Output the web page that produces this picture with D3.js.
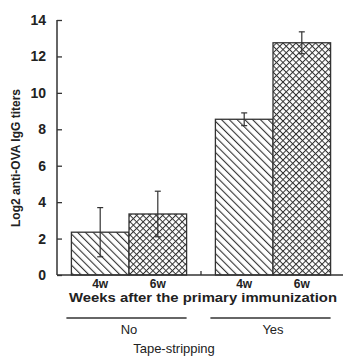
<!DOCTYPE html>
<html>
<head>
<meta charset="utf-8">
<script src="https://cdn.jsdelivr.net/npm/d3@7"></script>
<style>
  body { margin: 0; background: #fff; }
  text { font-family: "Liberation Sans", Arial, sans-serif; fill: #222; }
</style>
</head>
<body>
<div class="chart"></div>
<script>
// chart values
const groups = ["No", "Yes"];
const weeks = ["4w", "6w"];
const means = [[2.35, 3.35], [8.55, 12.75]];
const errs = [[1.35, 1.25], [0.35, 0.6]];
const yTicks = [0, 2, 4, 6, 8, 10, 12, 14];

const WIDTH = 343;
const HEIGHT = 362;

const x0 = d3.scaleBand().domain(groups).range([57, 345]).paddingInner(0.2).paddingOuter(0.1);
const x1 = d3.scaleBand().domain(weeks).range([0, x0.bandwidth()]);
const y = d3.scaleLinear().domain([0, 14]).range([275, 20]);

const svg = d3.select(".chart").append("svg")
    .attr("width", WIDTH)
    .attr("height", HEIGHT);

const defs = svg.append("defs");
// diagonal hatch for 4w
const hatch = defs.append("pattern")
    .attr("id", "hatch")
    .attr("patternUnits", "userSpaceOnUse")
    .attr("width", 5.5).attr("height", 5.5)
    .attr("patternTransform", "rotate(-45)");
hatch.append("rect").attr("width", 5.5).attr("height", 5.5).attr("fill", "#fff");
hatch.append("line").attr("x1", 0).attr("y1", 0).attr("x2", 0).attr("y2", 5.5)
    .attr("stroke", "#333").attr("stroke-width", 2.2);
// cross hatch for 6w
const cross = defs.append("pattern")
    .attr("id", "cross")
    .attr("patternUnits", "userSpaceOnUse")
    .attr("width", 4.6).attr("height", 4.6)
    .attr("patternTransform", "rotate(45)");
cross.append("rect").attr("width", 4.6).attr("height", 4.6).attr("fill", "#fff");
cross.append("line").attr("x1", 0).attr("y1", 0).attr("x2", 0).attr("y2", 4.6)
    .attr("stroke", "#333").attr("stroke-width", 2);
cross.append("line").attr("x1", 0).attr("y1", 0).attr("x2", 4.6).attr("y2", 0)
    .attr("stroke", "#333").attr("stroke-width", 2);

const fills = {"4w": "url(#hatch)", "6w": "url(#cross)"};

// bars
const rows = [];
groups.forEach((g, i) => weeks.forEach((w, j) => rows.push({g, w, v: means[i][j], e: errs[i][j]})));

const bars = svg.append("g");
bars.selectAll("rect")
    .data(rows)
    .join("rect")
    .attr("x", d => x0(d.g) + x1(d.w))
    .attr("y", d => y(d.v))
    .attr("width", x1.bandwidth())
    .attr("height", d => y(0) - y(d.v))
    .attr("fill", d => fills[d.w])
    .attr("stroke", "#333")
    .attr("stroke-width", 1.3);

// error bars
const eb = svg.append("g").attr("stroke", "#333").attr("stroke-width", 1.2);
rows.forEach(d => {
    const cx = x0(d.g) + x1(d.w) + x1.bandwidth() / 2;
    eb.append("line").attr("x1", cx).attr("x2", cx).attr("y1", y(d.v + d.e)).attr("y2", y(d.v - d.e));
    eb.append("line").attr("x1", cx - 3).attr("x2", cx + 3).attr("y1", y(d.v + d.e)).attr("y2", y(d.v + d.e));
    eb.append("line").attr("x1", cx - 3).attr("x2", cx + 3).attr("y1", y(d.v - d.e)).attr("y2", y(d.v - d.e));
});

// y axis
const yAxis = svg.append("g").attr("transform", "translate(57,0)")
    .call(d3.axisRight(y).tickValues(yTicks).tickSize(5).tickFormat(""));
yAxis.select(".domain").attr("stroke", "#333").attr("stroke-width", 1.5).attr("d", `M0,${y(14)}V${y(0)}`);
yAxis.selectAll(".tick line").attr("stroke", "#333").attr("stroke-width", 1.3);
svg.append("g").selectAll("text")
    .data(yTicks)
    .join("text")
    .attr("x", 46)
    .attr("y", d => y(d))
    .attr("dy", "0.36em")
    .attr("text-anchor", "end")
    .style("font-size", "14px")
    .style("font-weight", "bold")
    .text(d => d);

// x axis line
svg.append("line").attr("x1", 57).attr("x2", 343).attr("y1", y(0)).attr("y2", y(0))
    .attr("stroke", "#333").attr("stroke-width", 1.5);
const midX = (x0("No") + x0.bandwidth() + x0("Yes")) / 2;
svg.append("line").attr("x1", midX).attr("x2", midX).attr("y1", y(0)).attr("y2", y(0) - 4)
    .attr("stroke", "#333").attr("stroke-width", 1.3);

// week labels
svg.append("g").selectAll("text")
    .data(rows)
    .join("text")
    .attr("x", d => x0(d.g) + x1(d.w) + x1.bandwidth() / 2)
    .attr("y", 288)
    .attr("text-anchor", "middle")
    .style("font-size", "12px")
    .style("font-weight", "bold")
    .text(d => d.w);

svg.append("text")
    .attr("x", 203).attr("y", 302)
    .attr("text-anchor", "middle")
    .style("font-size", "13px")
    .style("font-weight", "bold")
    .attr("textLength", 268)
    .attr("lengthAdjust", "spacingAndGlyphs")
    .text("Weeks after the primary immunization");

// group lines and labels
groups.forEach(g => {
    const a = x0(g), b = x0(g) + x0.bandwidth();
    svg.append("line").attr("x1", a - 5).attr("x2", b).attr("y1", 318).attr("y2", 318)
        .attr("stroke", "#333").attr("stroke-width", 1.3);
    svg.append("text").attr("x", (a + b) / 2).attr("y", 334)
        .attr("text-anchor", "middle").style("font-size", "13px").text(g);
});

svg.append("text")
    .attr("x", 174).attr("y", 353)
    .attr("text-anchor", "middle")
    .style("font-size", "13px")
    .text("Tape-stripping");

// y title
svg.append("text")
    .attr("transform", "translate(20,158) rotate(-90)")
    .attr("text-anchor", "middle")
    .style("font-size", "12px")
    .style("font-weight", "bold")
    .text("Log2 anti-OVA IgG titers");
</script>
</body>
</html>
